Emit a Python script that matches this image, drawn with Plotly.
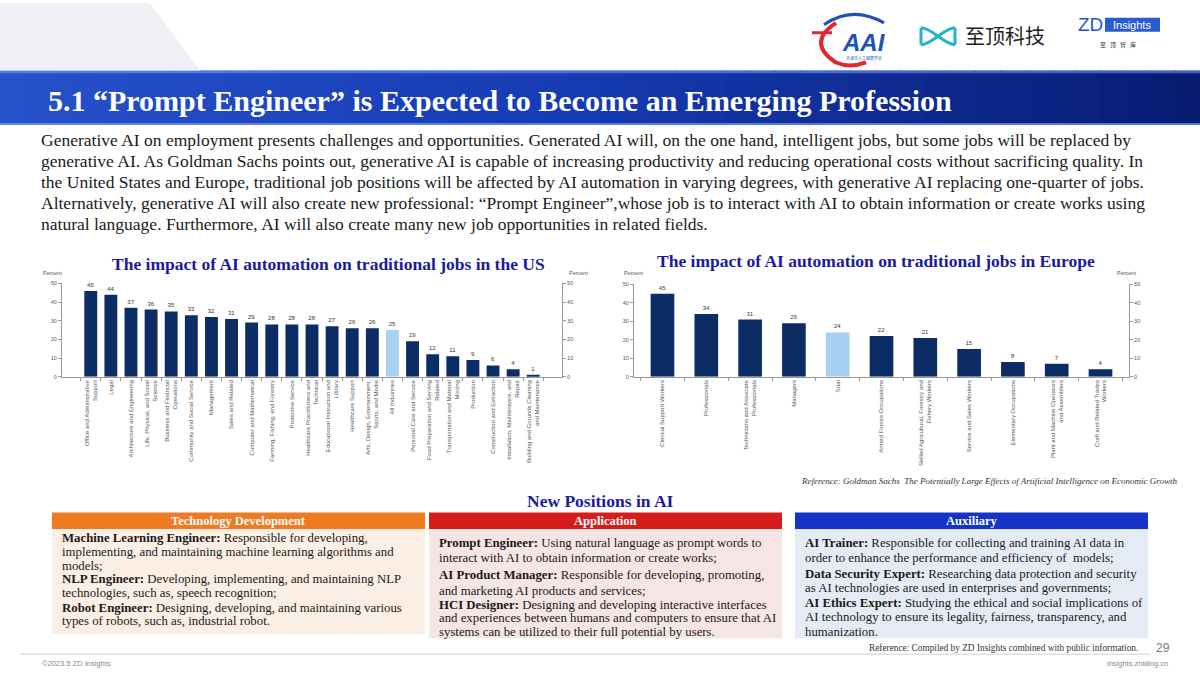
import plotly.graph_objects as go

W, H = 1200, 676

# ---------------- data ----------------
us_categories = [
    "Office and Administrative<br>Support", "Legal", "Architecture and Engineering",
    "Life, Physical, and Social<br>Science", "Business and Financial<br>Operations",
    "Community and Social Service", "Management", "Sales and Related",
    "Computer and Mathematical", "Farming, Fishing, and Forestry", "Protective Service",
    "Healthcare Practitioners and<br>Technical", "Educational Instruction and<br>Library",
    "Healthcare Support", "Arts, Design, Entertainment,<br>Sports, and Media", "All Industries",
    "Personal Care and Service", "Food Preparation and Serving<br>Related",
    "Transportation and Material<br>Moving", "Production", "Construction and Extraction",
    "Installation, Maintenance, and<br>Repair", "Building and Grounds Cleaning<br>and Maintenance",
]
us_values = [46, 44, 37, 36, 35, 33, 32, 31, 29, 28, 28, 28, 27, 26, 26, 25, 19, 12, 11, 9, 6, 4, 1]

eu_categories = [
    "Clerical Support Workers", "Professionals", "Technicians and Associate<br>Professionals",
    "Managers", "Total", "Armed Forces Occupations",
    "Skilled Agricultural, Forestry and<br>Fishery Workers", "Service and Sales Workers",
    "Elementary Occupations", "Plant and Machine Operators<br>and Assemblers",
    "Craft and Related Trades<br>Workers",
]
eu_values = [45, 34, 31, 29, 24, 22, 21, 15, 8, 7, 4]

y_ticks = [0, 10, 20, 30, 40, 50]

title_text = "5.1 \u201cPrompt Engineer\u201d is Expected to Become an Emerging Profession"
paragraph_lines = [
    "Generative AI on employment presents challenges and opportunities. Generated AI will, on the one hand, intelligent jobs, but some jobs will be replaced by",
    "generative AI. As Goldman Sachs points out, generative AI is capable of increasing productivity and reducing operational costs without sacrificing quality. In",
    "the United States and Europe, traditional job positions will be affected by AI automation in varying degrees, with generative AI replacing one-quarter of jobs.",
    "Alternatively, generative AI will also create new professional: \u201cPrompt Engineer\u201d,whose job is to interact with AI to obtain information or create works using",
    "natural language. Furthermore, AI will also create many new job opportunities in related fields.",
]
box_titles = ["Technology Development", "Application", "Auxiliary"]
box_lines = [
    ["<b>Machine Learning Engineer:</b> Responsible for developing,",
     "implementing, and maintaining machine learning algorithms and",
     "models;",
     "<b>NLP Engineer:</b> Developing, implementing, and maintaining NLP",
     "technologies, such as, speech recognition;",
     "<b>Robot Engineer:</b> Designing, developing, and maintaining various",
     "types of robots, such as, industrial robot."],
    ["<b>Prompt Engineer:</b> Using natural language as prompt words to",
     "interact with AI to obtain information or create works;",
     "<b>AI Product Manager:</b> Responsible for developing, promoting,",
     "and marketing AI products and services;",
     "<b>HCI Designer:</b> Designing and developing interactive interfaces",
     "and experiences between humans and computers to ensure that AI",
     "systems can be utilized to their full potential by users."],
    ["<b>AI Trainer:</b> Responsible for collecting and training AI data in",
     "order to enhance the performance and efficiency of  models;",
     "<b>Data Security Expert:</b> Researching data protection and security",
     "as AI technologies are used in enterprises and governments;",
     "<b>AI Ethics Expert:</b> Studying the ethical and social implications of",
     "AI technology to ensure its legality, fairness, transparency, and",
     "humanization."],
]

NAVY = "#0c2c66"
HILITE = "#a8d0f2"
SERIF = "Liberation Serif"
SANS = "Liberation Sans"


def px(x):
    return x / W


def py(y):
    return 1 - y / H


shapes = []
annotations = []


def rect(x0, y0, x1, y1, color, line=None):
    shapes.append(dict(type="rect", xref="paper", yref="paper",
                       x0=px(x0), x1=px(x1), y0=py(y1), y1=py(y0),
                       fillcolor=color, line=dict(width=0) if line is None else line,
                       layer="below"))


def path(d, color, width=2, fill=None):
    shapes.append(dict(type="path", xref="paper", yref="paper", path=d,
                       line=dict(color=color, width=width),
                       fillcolor=fill if fill else "rgba(0,0,0,0)"))


def P(x, y):
    return f"{px(x):.5f},{py(y):.5f}"


def ann(x, y, text, size, color="#222", family=SERIF, xanchor="left", yanchor="middle"):
    annotations.append(dict(xref="paper", yref="paper", x=px(x), y=py(y), text=text,
                            showarrow=False, xanchor=xanchor, yanchor=yanchor,
                            font=dict(size=size, color=color, family=family)))


# ---------------- slide background ----------------
path(f"M{P(0, 0)} L{P(150, 0)} L{P(200, 68)} L{P(0, 68)} Z", "rgba(0,0,0,0)", 0, "#eef0f4")

# title bar gradient
n = 48
c0 = (38, 82, 204)
c1 = (22, 58, 178)
c2 = (8, 28, 115)
for i in range(n):
    t = i / (n - 1)
    if t < 0.5:
        a, b, u = c0, c1, t / 0.5
    else:
        a, b, u = c1, c2, (t - 0.5) / 0.5
    col = tuple(int(a[k] + (b[k] - a[k]) * u) for k in range(3))
    rect(i * W / n, 68, (i + 1) * W / n + 1, 123, "rgb(%d,%d,%d)" % col)
rect(0, 68, 1200, 71, "rgba(120,160,240,0.55)")
rect(0, 121, 1200, 123, "rgba(140,180,245,0.6)")
ann(46, 98, "<b>" + title_text + "</b>", 30, "white", SERIF)

# logos
path(f"M{P(836, 20)} Q{P(806, 40)} {P(836, 60)} Q{P(850, 66)} {P(866, 60)}", "#e0282e", 4)
path(f"M{P(824, 22)} Q{P(852, 2)} {P(884, 20)}", "#1f4fb8", 3)
path(f"M{P(812, 30)} L{P(832, 30)}", "#e0282e", 3)
ann(864, 40, "<b><i>AAI</i></b>", 24, "#1f4fb8", SANS, "center")
ann(864, 55, "天津市人工智能学会", 4, "#1f4fb8", "Noto Sans CJK SC", "center")

path(f"M{P(921, 25)} L{P(921, 42)} "
     f"M{P(921, 25)} C{P(932, 25)} {P(944, 42)} {P(955, 42)} "
     f"M{P(921, 42)} C{P(932, 42)} {P(944, 25)} {P(955, 25)} "
     f"M{P(955, 25)} L{P(955, 42)}", "#27b3cc", 3)
ann(963, 33, "至顶科技", 20, "#222", "Noto Sans CJK SC", "left")

ann(1090, 22, "ZD", 19, "#2456c8", SANS, "center")
rect(1105, 15, 1160, 29, "#2a5bd0")
ann(1132, 22, "Insights", 11, "white", SANS, "center")
ann(1118, 42, "至&nbsp;&nbsp;&nbsp;顶&nbsp;&nbsp;&nbsp;智&nbsp;&nbsp;&nbsp;库", 6, "#333", "Noto Sans CJK SC", "center")

# paragraph
for i, line in enumerate(paragraph_lines):
    ann(39, 138 + i * 21.2, line, 17.5, "#1a1a1a", SERIF)

# chart titles
ann(328, 263, "<b>The impact of AI automation on traditional jobs in the US</b>", 17.5, "#1a1a9e", SERIF, "center")
ann(876, 260, "<b>The impact of AI automation on traditional jobs in Europe</b>", 17.5, "#1a1a9e", SERIF, "center")
for x in (52, 578, 633, 1126):
    ann(x, 272, "Percent", 5.5, "#555", SANS, "center")

ann(1180, 482, "<i>Reference: Goldman Sachs&nbsp;&nbsp;The Potentially Large Effects of Artificial Intelligence on Economic Growth</i>",
    9, "#333", SERIF, "right")

# new positions
ann(600, 502, "<b>New Positions in AI</b>", 17.5, "#1a1a9e", SERIF, "center")
box_x = [(52, 425), (429, 782), (795, 1148)]
box_head = ["#ef7a22", "#d71c1c", "#1533c4"]
box_body = ["#fbeee4", "#f5e5e5", "#e5ebf5"]
box_bottom = [637, 641, 641]
box_line_y = [[540, 554, 568, 581, 595, 610, 624],
              [545, 560, 577, 593, 607, 621, 635],
              [545, 560, 576, 590, 605, 620, 635]]
for k in range(3):
    x0, x1 = box_x[k]
    rect(x0, 514, x1, 531, box_head[k])
    rect(x0, 531, x1, box_bottom[k], box_body[k])
    ann((x0 + x1) / 2, 522.5, "<b>" + box_titles[k] + "</b>", 12.5, "white", SERIF, "center")
    for j, line in enumerate(box_lines[k]):
        ann(x0 + 8, box_line_y[k][j], line, 12.8, "#1a1a1a", SERIF)

# footer
shapes.append(dict(type="line", xref="paper", yref="paper", x0=px(20), x1=px(1150),
                   y0=py(657), y1=py(657), line=dict(color="#cfcfcf", width=1)))
ann(1140, 651, "Reference: Compiled by ZD Insights combined with public information.", 9.3, "#333", SERIF, "right")
ann(1163, 651, "29", 12, "#777", SANS, "center")
ann(40, 666, "\u00a92023.5 ZD Insights", 7.5, "#888", SANS, "left")
ann(1170, 666, "insights.zhiding.cn", 7.5, "#888", SANS, "right")

# ---------------- charts ----------------
us_colors = [HILITE if c == "All Industries" else NAVY for c in us_categories]
eu_colors = [HILITE if c == "Total" else NAVY for c in eu_categories]

fig = go.Figure()
fig.add_trace(go.Bar(x=us_categories, y=us_values, marker=dict(color=us_colors, line=dict(width=0)),
                     text=us_values, textposition="outside", cliponaxis=False,
                     textfont=dict(size=6, color="#333", family=SANS),
                     xaxis="x", yaxis="y", hoverinfo="skip"))
fig.add_trace(go.Scatter(x=us_categories, y=us_values, mode="markers", marker=dict(opacity=0),
                         xaxis="x", yaxis="y2", hoverinfo="skip", showlegend=False))
fig.add_trace(go.Bar(x=eu_categories, y=eu_values, marker=dict(color=eu_colors, line=dict(width=0)),
                     text=eu_values, textposition="outside", cliponaxis=False,
                     textfont=dict(size=6, color="#333", family=SANS),
                     xaxis="x2", yaxis="y3", hoverinfo="skip"))
fig.add_trace(go.Scatter(x=eu_categories, y=eu_values, mode="markers", marker=dict(opacity=0),
                         xaxis="x2", yaxis="y4", hoverinfo="skip", showlegend=False))

axis_font = dict(size=5.5, color="#555", family=SANS)
xcommon = dict(showline=True, linecolor="#999", linewidth=1, ticks="outside", ticklen=3,
               tickcolor="#999", tickson="boundaries", tickangle=-90, showgrid=False,
               fixedrange=True, tickfont=dict(size=6, color="#555", family=SANS))
ycommon = dict(range=[0, 50], tickvals=y_ticks, showline=True, linecolor="#999", linewidth=1,
               ticks="outside", ticklen=3, tickcolor="#999", showgrid=False, zeroline=False,
               tickfont=axis_font, fixedrange=True)

us_y = [py(377), py(283)]
eu_y = [py(377), py(284)]
fig.update_layout(
    width=W, height=H, margin=dict(l=0, r=0, t=0, b=0), autosize=False,
    paper_bgcolor="white", plot_bgcolor="rgba(0,0,0,0)", showlegend=False,
    bargap=0.36,
    xaxis=dict(domain=[px(62), px(562)], anchor="y", **xcommon),
    yaxis=dict(domain=us_y, anchor="x", side="left", **ycommon),
    yaxis2=dict(domain=us_y, anchor="x", overlaying="y", side="right", **ycommon),
    xaxis2=dict(domain=[px(634), px(1129)], anchor="y3", **xcommon),
    yaxis3=dict(domain=eu_y, anchor="x2", side="left", **ycommon),
    yaxis4=dict(domain=eu_y, anchor="x2", overlaying="y3", side="right", **ycommon),
    shapes=shapes, annotations=annotations,
)
fig.data[2].update(width=0.54)

fig.write_html("out.html", include_plotlyjs=True, config={"displayModeBar": False},
               post_script="document.body.style.margin='0';document.body.style.overflow='hidden';")
